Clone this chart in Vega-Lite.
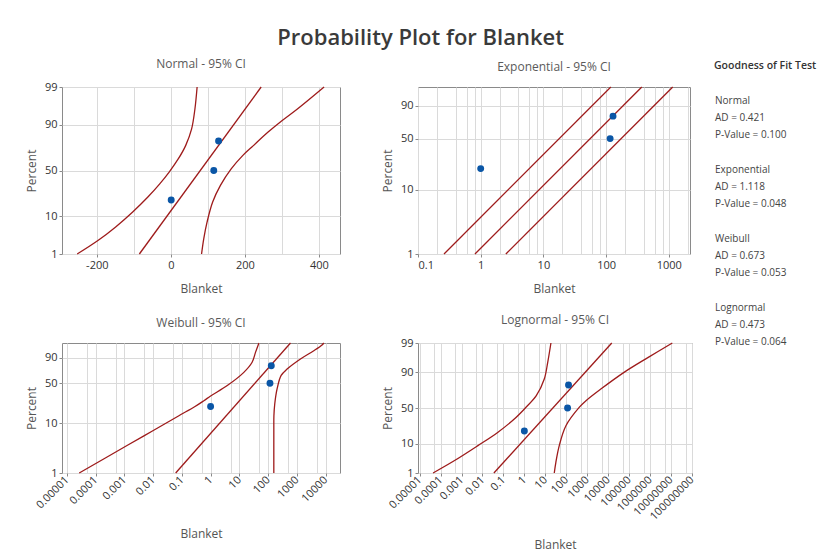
{
  "$schema": "https://vega.github.io/schema/vega-lite/v6.json",
  "background": "white",
  "padding": {"left": 24, "top": 26, "right": 2, "bottom": 2},
  "title": {"text": "Probability Plot for Blanket", "fontSize": 22, "fontWeight": 600, "color": "#3a3a3a", "anchor": "middle", "offset": 8},
  "datasets": {
    "ci": [
      {"panel": "Normal", "curve": "lower", "blanket": -253, "pct": 1},
      {"panel": "Normal", "curve": "lower", "blanket": -196, "pct": 2.6},
      {"panel": "Normal", "curve": "lower", "blanket": -149, "pct": 5.8},
      {"panel": "Normal", "curve": "lower", "blanket": -103, "pct": 12.4},
      {"panel": "Normal", "curve": "lower", "blanket": -62, "pct": 23},
      {"panel": "Normal", "curve": "lower", "blanket": -30, "pct": 35.5},
      {"panel": "Normal", "curve": "lower", "blanket": -5, "pct": 48},
      {"panel": "Normal", "curve": "lower", "blanket": 20, "pct": 62.6},
      {"panel": "Normal", "curve": "lower", "blanket": 40, "pct": 75.6},
      {"panel": "Normal", "curve": "lower", "blanket": 56, "pct": 87.5},
      {"panel": "Normal", "curve": "lower", "blanket": 65, "pct": 95.6},
      {"panel": "Normal", "curve": "lower", "blanket": 71, "pct": 99},
      {"panel": "Normal", "curve": "fit", "blanket": -85, "pct": 1},
      {"panel": "Normal", "curve": "fit", "blanket": 244, "pct": 99},
      {"panel": "Normal", "curve": "upper", "blanket": 83, "pct": 1},
      {"panel": "Normal", "curve": "upper", "blanket": 89, "pct": 2.9},
      {"panel": "Normal", "curve": "upper", "blanket": 98, "pct": 7.6},
      {"panel": "Normal", "curve": "upper", "blanket": 113, "pct": 19},
      {"panel": "Normal", "curve": "upper", "blanket": 134, "pct": 33.9},
      {"panel": "Normal", "curve": "upper", "blanket": 163, "pct": 51.8},
      {"panel": "Normal", "curve": "upper", "blanket": 194, "pct": 66.1},
      {"panel": "Normal", "curve": "upper", "blanket": 223, "pct": 75.6},
      {"panel": "Normal", "curve": "upper", "blanket": 262, "pct": 85.6},
      {"panel": "Normal", "curve": "upper", "blanket": 300, "pct": 91.7},
      {"panel": "Normal", "curve": "upper", "blanket": 341, "pct": 95.6},
      {"panel": "Normal", "curve": "upper", "blanket": 414, "pct": 99},
      {"panel": "Exponential", "curve": "lower", "blanket": 0.26, "pct": 1},
      {"panel": "Exponential", "curve": "lower", "blanket": 119, "pct": 99},
      {"panel": "Exponential", "curve": "fit", "blanket": 0.81, "pct": 1},
      {"panel": "Exponential", "curve": "fit", "blanket": 371, "pct": 99},
      {"panel": "Exponential", "curve": "upper", "blanket": 2.52, "pct": 1},
      {"panel": "Exponential", "curve": "upper", "blanket": 1155, "pct": 99},
      {"panel": "Weibull", "curve": "lower", "blanket": 0.000027, "pct": 1},
      {"panel": "Weibull", "curve": "lower", "blanket": 0.00124, "pct": 3.6},
      {"panel": "Weibull", "curve": "lower", "blanket": 0.0098, "pct": 7.1},
      {"panel": "Weibull", "curve": "lower", "blanket": 0.079, "pct": 13.9},
      {"panel": "Weibull", "curve": "lower", "blanket": 0.278, "pct": 20.4},
      {"panel": "Weibull", "curve": "lower", "blanket": 0.585, "pct": 26.2},
      {"panel": "Weibull", "curve": "lower", "blanket": 1, "pct": 31.5},
      {"panel": "Weibull", "curve": "lower", "blanket": 3.8, "pct": 46.2},
      {"panel": "Weibull", "curve": "lower", "blanket": 14.3, "pct": 68.5},
      {"panel": "Weibull", "curve": "lower", "blanket": 27.8, "pct": 84.4},
      {"panel": "Weibull", "curve": "lower", "blanket": 36.4, "pct": 94.8},
      {"panel": "Weibull", "curve": "lower", "blanket": 48, "pct": 99},
      {"panel": "Weibull", "curve": "fit", "blanket": 0.061, "pct": 1},
      {"panel": "Weibull", "curve": "fit", "blanket": 600, "pct": 99},
      {"panel": "Weibull", "curve": "upper", "blanket": 158, "pct": 1},
      {"panel": "Weibull", "curve": "upper", "blanket": 158, "pct": 8},
      {"panel": "Weibull", "curve": "upper", "blanket": 159, "pct": 13.9},
      {"panel": "Weibull", "curve": "upper", "blanket": 170, "pct": 22.9},
      {"panel": "Weibull", "curve": "upper", "blanket": 205, "pct": 41},
      {"panel": "Weibull", "curve": "upper", "blanket": 284, "pct": 63.2},
      {"panel": "Weibull", "curve": "upper", "blanket": 457, "pct": 74},
      {"panel": "Weibull", "curve": "upper", "blanket": 1333, "pct": 88.5},
      {"panel": "Weibull", "curve": "upper", "blanket": 3870, "pct": 95.9},
      {"panel": "Weibull", "curve": "upper", "blanket": 7500, "pct": 98.5},
      {"panel": "Weibull", "curve": "upper", "blanket": 8600, "pct": 99},
      {"panel": "Lognormal", "curve": "lower", "blanket": 0.0000435, "pct": 1},
      {"panel": "Lognormal", "curve": "lower", "blanket": 0.000465, "pct": 3},
      {"panel": "Lognormal", "curve": "lower", "blanket": 0.00604, "pct": 8.9},
      {"panel": "Lognormal", "curve": "lower", "blanket": 0.053, "pct": 19.1},
      {"panel": "Lognormal", "curve": "lower", "blanket": 0.331, "pct": 34.7},
      {"panel": "Lognormal", "curve": "lower", "blanket": 1.11, "pct": 50},
      {"panel": "Lognormal", "curve": "lower", "blanket": 3.72, "pct": 67},
      {"panel": "Lognormal", "curve": "lower", "blanket": 8.95, "pct": 85},
      {"panel": "Lognormal", "curve": "lower", "blanket": 13, "pct": 94.8},
      {"panel": "Lognormal", "curve": "lower", "blanket": 18.6, "pct": 99},
      {"panel": "Lognormal", "curve": "fit", "blanket": 0.035, "pct": 1},
      {"panel": "Lognormal", "curve": "fit", "blanket": 15000, "pct": 99},
      {"panel": "Lognormal", "curve": "upper", "blanket": 26.9, "pct": 1},
      {"panel": "Lognormal", "curve": "upper", "blanket": 32, "pct": 2.6},
      {"panel": "Lognormal", "curve": "upper", "blanket": 46.5, "pct": 8.9},
      {"panel": "Lognormal", "curve": "upper", "blanket": 96.8, "pct": 26.3},
      {"panel": "Lognormal", "curve": "upper", "blanket": 416, "pct": 50.8},
      {"panel": "Lognormal", "curve": "upper", "blanket": 877, "pct": 60.3},
      {"panel": "Lognormal", "curve": "upper", "blanket": 4490, "pct": 75.1},
      {"panel": "Lognormal", "curve": "upper", "blanket": 57800, "pct": 89.9},
      {"panel": "Lognormal", "curve": "upper", "blanket": 830000, "pct": 96.5},
      {"panel": "Lognormal", "curve": "upper", "blanket": 11700000, "pct": 99}
    ],
    "obs": [
      {"blanket": 1, "pct": 20.6},
      {"blanket": 116, "pct": 50},
      {"blanket": 129, "pct": 79.4}
    ],
    "gof": [
      {"dist": "Normal", "ad": 0.421, "p": 0.100},
      {"dist": "Exponential", "ad": 1.118, "p": 0.048},
      {"dist": "Weibull", "ad": 0.673, "p": 0.053},
      {"dist": "Lognormal", "ad": 0.473, "p": 0.064}
    ]
  },
  "hconcat": [
    {
      "columns": 2,
      "align": "each",
      "spacing": {"row": 18, "column": 39},
      "concat": [
        {
          "title": "Normal - 95% CI",
          "width": 278,
          "height": 167,
          "layer": [
            {
              "data": {"name": "ci"},
              "transform": [
                {"filter": "datum.panel == 'Normal'"},
                {"calculate": "quantileNormal(datum.pct / 100)", "as": "score"}
              ],
              "mark": {"type": "line", "color": "#9e1b1b", "strokeWidth": 1.3, "interpolate": "catmull-rom"},
              "encoding": {
                "x": {
                  "field": "blanket", "type": "quantitative", "title": "Blanket",
                  "scale": {"domain": [-294, 457], "nice": false, "zero": false},
                  "axis": {
                    "grid": true, "labelOverlap": false, "tickCount": 50,
                    "values": [-200, -100, 0, 100, 200, 300, 400],
                    "labelExpr": "datum.value % 200 == 0 ? toString(datum.value) : ''",
                    "tickOpacity": {"condition": {"test": "datum.value % 200 == 0", "value": 1}, "value": 0}
                  }
                },
                "y": {
                  "field": "score", "type": "quantitative", "title": "Percent",
                  "scale": {"domain": [-2.326348, 2.326348], "nice": false, "zero": false},
                  "axis": {
                    "grid": true, "labelOverlap": false, "tickCount": 50,
                    "values": [-2.326348, -1.281552, 0, 1.281552, 2.326348],
                    "labelExpr": "format(cumulativeNormal(datum.value) * 100, '.0f')"
                  }
                },
                "detail": {"field": "curve"},
                "order": {"field": "pct"}
              }
            },
            {
              "data": {"name": "obs"},
              "transform": [{"calculate": "quantileNormal(datum.pct / 100)", "as": "score"}],
              "mark": {"type": "circle", "size": 48, "color": "#0a56a6", "opacity": 1},
              "encoding": {
                "x": {"field": "blanket", "type": "quantitative"},
                "y": {"field": "score", "type": "quantitative"}
              }
            }
          ]
        },
        {
          "title": "Exponential - 95% CI",
          "width": 272,
          "height": 167,
          "layer": [
            {
              "data": {"name": "ci"},
              "transform": [
                {"filter": "datum.panel == 'Exponential'"},
                {"calculate": "log(-log(1 - datum.pct / 100))", "as": "score"}
              ],
              "mark": {"type": "line", "color": "#9e1b1b", "strokeWidth": 1.3},
              "encoding": {
                "x": {
                  "field": "blanket", "type": "quantitative", "title": "Blanket",
                  "scale": {"type": "log", "domain": [0.1, 2180], "nice": false},
                  "axis": {
                    "grid": true, "labelOverlap": false, "tickCount": 50,
                    "values": [0.1, 0.2, 0.4, 0.6, 0.8, 1, 2, 4, 6, 8, 10, 20, 40, 60, 80, 100, 200, 400, 600, 800, 1000, 2000],
                    "labelExpr": "abs(log(datum.value) / LN10 - round(log(datum.value) / LN10)) < 0.01 ? toString(datum.value) : ''",
                    "tickOpacity": {"condition": {"test": "abs(log(datum.value) / LN10 - round(log(datum.value) / LN10)) < 0.01", "value": 1}, "value": 0}
                  }
                },
                "y": {
                  "field": "score", "type": "quantitative", "title": "Percent",
                  "scale": {"domain": [-4.600149, 1.527180], "nice": false, "zero": false},
                  "axis": {
                    "grid": true, "labelOverlap": false, "tickCount": 50,
                    "values": [-4.600149, -2.250367, -0.366513, 0.834032],
                    "labelExpr": "format((1 - exp(-exp(datum.value))) * 100, '.0f')"
                  }
                },
                "detail": {"field": "curve"},
                "order": {"field": "pct"}
              }
            },
            {
              "data": {"name": "obs"},
              "transform": [{"calculate": "log(-log(1 - datum.pct / 100))", "as": "score"}],
              "mark": {"type": "circle", "size": 48, "color": "#0a56a6", "opacity": 1},
              "encoding": {
                "x": {"field": "blanket", "type": "quantitative"},
                "y": {"field": "score", "type": "quantitative"}
              }
            }
          ]
        },
        {
          "title": "Weibull - 95% CI",
          "width": 278,
          "height": 130,
          "layer": [
            {
              "data": {"name": "ci"},
              "transform": [
                {"filter": "datum.panel == 'Weibull'"},
                {"calculate": "log(-log(1 - datum.pct / 100))", "as": "score"}
              ],
              "mark": {"type": "line", "color": "#9e1b1b", "strokeWidth": 1.3, "interpolate": "catmull-rom"},
              "encoding": {
                "x": {
                  "field": "blanket", "type": "quantitative", "title": "Blanket",
                  "scale": {"type": "log", "domain": [0.0000068, 31600], "nice": false},
                  "axis": {
                    "grid": true, "labelOverlap": false, "tickCount": 50,
                    "values": [0.00001, 0.00005, 0.0001, 0.0005, 0.001, 0.005, 0.01, 0.05, 0.1, 0.5, 1, 5, 10, 50, 100, 500, 1000, 5000, 10000],
                    "labelExpr": "abs(log(datum.value) / LN10 - round(log(datum.value) / LN10)) < 0.01 ? toString(datum.value) : ''",
                    "tickOpacity": {"condition": {"test": "abs(log(datum.value) / LN10 - round(log(datum.value) / LN10)) < 0.01", "value": 1}, "value": 0},
                    "labelAngle": -45, "labelAlign": "right", "labelBaseline": "middle", "titlePadding": 18
                  }
                },
                "y": {
                  "field": "score", "type": "quantitative", "title": "Percent",
                  "scale": {"domain": [-4.600149, 1.527180], "nice": false, "zero": false},
                  "axis": {
                    "grid": true, "labelOverlap": false, "tickCount": 50,
                    "values": [-4.600149, -2.250367, -0.366513, 0.834032],
                    "labelExpr": "format((1 - exp(-exp(datum.value))) * 100, '.0f')"
                  }
                },
                "detail": {"field": "curve"},
                "order": {"field": "pct"}
              }
            },
            {
              "data": {"name": "obs"},
              "transform": [{"calculate": "log(-log(1 - datum.pct / 100))", "as": "score"}],
              "mark": {"type": "circle", "size": 48, "color": "#0a56a6", "opacity": 1},
              "encoding": {
                "x": {"field": "blanket", "type": "quantitative"},
                "y": {"field": "score", "type": "quantitative"}
              }
            }
          ]
        },
        {
          "title": "Lognormal - 95% CI",
          "width": 274,
          "height": 130,
          "layer": [
            {
              "data": {"name": "ci"},
              "transform": [
                {"filter": "datum.panel == 'Lognormal'"},
                {"calculate": "quantileNormal(datum.pct / 100)", "as": "score"}
              ],
              "mark": {"type": "line", "color": "#9e1b1b", "strokeWidth": 1.3, "interpolate": "catmull-rom"},
              "encoding": {
                "x": {
                  "field": "blanket", "type": "quantitative", "title": "Blanket",
                  "scale": {"type": "log", "domain": [0.0000083, 102000000], "nice": false},
                  "axis": {
                    "grid": true, "labelOverlap": false, "tickCount": 50,
                    "values": [0.00001, 0.00005, 0.0001, 0.0005, 0.001, 0.005, 0.01, 0.05, 0.1, 0.5, 1, 5, 10, 50, 100, 500, 1000, 5000, 10000, 50000, 100000, 500000, 1000000, 5000000, 10000000, 50000000, 100000000],
                    "labelExpr": "abs(log(datum.value) / LN10 - round(log(datum.value) / LN10)) < 0.01 ? toString(datum.value) : ''",
                    "tickOpacity": {"condition": {"test": "abs(log(datum.value) / LN10 - round(log(datum.value) / LN10)) < 0.01", "value": 1}, "value": 0},
                    "labelAngle": -45, "labelAlign": "right", "labelBaseline": "middle", "titlePadding": 18
                  }
                },
                "y": {
                  "field": "score", "type": "quantitative", "title": "Percent",
                  "scale": {"domain": [-2.326348, 2.326348], "nice": false, "zero": false},
                  "axis": {
                    "grid": true, "labelOverlap": false, "tickCount": 50,
                    "values": [-2.326348, -1.281552, 0, 1.281552, 2.326348],
                    "labelExpr": "format(cumulativeNormal(datum.value) * 100, '.0f')"
                  }
                },
                "detail": {"field": "curve"},
                "order": {"field": "pct"}
              }
            },
            {
              "data": {"name": "obs"},
              "transform": [{"calculate": "quantileNormal(datum.pct / 100)", "as": "score"}],
              "mark": {"type": "circle", "size": 48, "color": "#0a56a6", "opacity": 1},
              "encoding": {
                "x": {"field": "blanket", "type": "quantitative"},
                "y": {"field": "score", "type": "quantitative"}
              }
            }
          ]
        }
      ]
    },
    {
      "title": {"text": "Goodness of Fit Test", "anchor": "start", "fontSize": 10.5, "fontWeight": 600, "color": "#333333", "offset": 16},
      "width": 2,
      "height": 207,
      "view": {"stroke": null},
      "data": {"name": "gof"},
      "transform": [
        {"calculate": "'AD = ' + format(datum.ad, '.3f')", "as": "ad_text"},
        {"calculate": "'P-Value = ' + format(datum.p, '.3f')", "as": "p_text"}
      ],
      "encoding": {
        "y": {"field": "dist", "type": "nominal", "sort": null, "scale": {"type": "point", "padding": 0}, "axis": null}
      },
      "layer": [
        {"mark": {"type": "text", "align": "left", "baseline": "middle", "dy": 14, "fontSize": 10, "color": "#444444"}, "encoding": {"text": {"field": "dist"}}},
        {"mark": {"type": "text", "align": "left", "baseline": "middle", "dy": 31, "fontSize": 10, "color": "#444444"}, "encoding": {"text": {"field": "ad_text"}}},
        {"mark": {"type": "text", "align": "left", "baseline": "middle", "dy": 48, "fontSize": 10, "color": "#444444"}, "encoding": {"text": {"field": "p_text"}}}
      ]
    }
  ],
  "spacing": 18,
  "config": {
    "font": "Open Sans",
    "view": {"stroke": "#8a8a8a", "strokeWidth": 1},
    "axis": {
      "domain": false,
      "grid": true,
      "gridColor": "#dadada",
      "gridWidth": 1,
      "labelOverlap": false,
      "labelColor": "#333333",
      "labelFontSize": 11,
      "labelPadding": 2,
      "tickColor": "#8a8a8a",
      "tickSize": 3,
      "titleColor": "#555555",
      "titleFontSize": 12,
      "titleFontWeight": "normal"
    },
    "axisX": {"titlePadding": 13},
    "axisY": {"titlePadding": 6},
    "title": {"fontSize": 12, "fontWeight": "normal", "color": "#5a5a5a", "offset": 10}
  }
}
